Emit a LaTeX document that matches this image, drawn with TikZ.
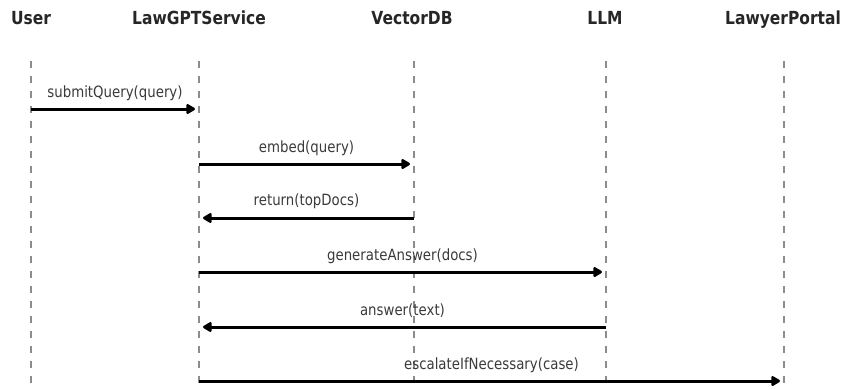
\documentclass[tikz,border=0pt]{standalone}
\usepackage{fontspec}
\setmainfont{DejaVu Sans}[FakeStretch=0.86]
\usetikzlibrary{arrows.meta}
\definecolor{lifegray}{HTML}{8C8C8C}
\definecolor{inkdark}{HTML}{262626}
\definecolor{labelgray}{HTML}{3A3A3A}
\tikzset{
  actor/.style={font=\bfseries\fontsize{18}{21}\selectfont, text=inkdark, inner sep=0pt, anchor=base},
  lifeline/.style={draw=lifegray, line width=1.4pt, dash pattern=on 7pt off 8pt},
  msg/.style={draw=black, line width=3pt, -{Triangle[length=10pt, width=11pt, round]}, shorten >=4pt},
  msglabel/.style={font=\fontsize{15.5}{18}\selectfont, text=labelgray, inner sep=0pt, anchor=center}
}
\begin{document}
\begin{tikzpicture}[x=1pt, y=-1pt]
  \useasboundingbox (0,0) rectangle (841,389);

  % participant headers
  \node[actor] (user) at (31,24) {User};
  \node[actor] (svc)  at (199,24) {LawGPTService};
  \node[actor] (vdb)  at (412,24) {VectorDB};
  \node[actor] (llm)  at (605,24) {LLM};
  \node[actor] (lp)   at (783,24) {LawyerPortal};

  % lifeline ends
  \coordinate (user-top) at (31,61);  \coordinate (user-bot) at (31,392);
  \coordinate (svc-top)  at (199,61); \coordinate (svc-bot)  at (199,392);
  \coordinate (vdb-top)  at (414,61); \coordinate (vdb-bot)  at (414,392);
  \coordinate (llm-top)  at (606,61); \coordinate (llm-bot)  at (606,392);
  \coordinate (lp-top)   at (784,61); \coordinate (lp-bot)   at (784,392);

  \foreach \p in {user,svc,vdb,llm,lp}
    \draw[lifeline] (\p-top) -- (\p-bot);

  % message rows
  \coordinate (r1) at (0,109);
  \coordinate (r2) at (0,164);
  \coordinate (r3) at (0,218);
  \coordinate (r4) at (0,272);
  \coordinate (r5) at (0,327);
  \coordinate (r6) at (0,381);

  \draw[msg] (user-top |- r1) -- node[msglabel, yshift=16pt] (m1) {submitQuery(query)} (svc-top |- r1);
  \draw[msg] (svc-top |- r2) -- node[msglabel, yshift=16pt] (m2) {embed(query)} (vdb-top |- r2);
  \draw[msg] (vdb-top |- r3) -- node[msglabel, yshift=17pt] (m3) {return(topDocs)} (svc-top |- r3);
  \draw[msg] (svc-top |- r4) -- node[msglabel, yshift=16pt] (m4) {generateAnswer(docs)} (llm-top |- r4);
  \draw[msg] (llm-top |- r5) -- node[msglabel, yshift=16pt] (m5) {answer(text)} (svc-top |- r5);
  \draw[msg] (svc-top |- r6) -- node[msglabel, yshift=16pt] (m6) {escalateIfNecessary(case)} (lp-top |- r6);
\end{tikzpicture}
\end{document}
